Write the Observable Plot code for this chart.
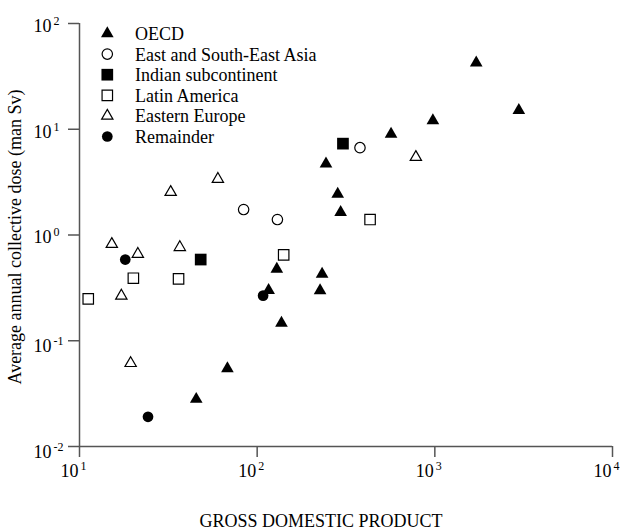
<!DOCTYPE html>
<html>
<head>
<meta charset="utf-8">
<script src="https://cdn.jsdelivr.net/npm/d3@7"></script>
<script src="https://cdn.jsdelivr.net/npm/@observablehq/plot@0.6"></script>
<style>
  html, body { margin: 0; padding: 0; background: #fff; }
  #chart { width: 629px; height: 531px; }
</style>
</head>
<body>
<div id="chart"></div>
<script>
// ---- data ----
const xLabel = "GROSS DOMESTIC PRODUCT";
const yLabel = "Average annual collective dose (man Sv)";
const xTicks = [10, 100, 1000, 10000];
const yTicks = [0.01, 0.1, 1, 10, 100];

const seriesNames = ["OECD", "East and South-East Asia", "Indian subcontinent", "Latin America", "Eastern Europe", "Remainder"];

const oecdGDP  = [1710, 2970, 975, 567, 244, 284, 295, 129, 232, 116, 226, 137, 68, 45.4];
const oecdDose = [42.4, 15.1, 12.1, 9.0, 4.7, 2.44, 1.64, 0.476, 0.427, 0.30, 0.298, 0.147, 0.0546, 0.028];

const asiaGDP  = [379, 83.9, 130];
const asiaDose = [6.7, 1.74, 1.40];

const indiaGDP  = [304, 48.1];
const indiaDose = [7.31, 0.586];

const latinGDP  = [432, 141, 20.1, 36.1, 11.2];
const latinDose = [1.40, 0.649, 0.39, 0.385, 0.249];

const eeGDP  = [782, 60.1, 32.6, 15.2, 36.7, 21.3, 17.2, 19.4];
const eeDose = [5.45, 3.38, 2.54, 0.82, 0.765, 0.66, 0.266, 0.0613];

const remGDP  = [18.1, 108, 24.3];
const remDose = [0.586, 0.267, 0.0191];

// ---- styles per series ----
const styles = [
  {symbol: "triangle", fill: "black", stroke: "none", r: 4.7},
  {symbol: "circle",   fill: "white", stroke: "black", r: 5.2},
  {symbol: "square",   fill: "black", stroke: "none", r: 6.6},
  {symbol: "square",   fill: "white", stroke: "black", r: 5.9},
  {symbol: "triangle", fill: "white", stroke: "black", r: 4.2},
  {symbol: "circle",   fill: "black", stroke: "none", r: 5.35}
];
const seriesData = [
  [oecdGDP, oecdDose], [asiaGDP, asiaDose], [indiaGDP, indiaDose],
  [latinGDP, latinDose], [eeGDP, eeDose], [remGDP, remDose]
].map(([xs, ys]) => xs.map((x, i) => ({gdp: x, dose: ys[i]})));

const drawOrder = [5, 4, 3, 1, 2, 0];

const AXIS = "#555";
const FONT = "'Liberation Serif', 'Times New Roman', serif";
const fmt = d => "10^" + Math.round(Math.log10(d));

const svg = Plot.plot({
  width: 629, height: 531,
  marginTop: 23, marginLeft: 79, marginRight: 17, marginBottom: 85,
  style: {fontFamily: FONT, fontSize: "18px", color: "black", background: "white"},
  x: {type: "log", domain: [10, 10000]},
  y: {type: "log", domain: [0.01, 100]},
  marks: [
    Plot.axisX({ticks: xTicks, tickFormat: fmt, tickSize: 11, tickPadding: 7, label: null, stroke: AXIS, strokeWidth: 1.5}),
    Plot.axisY({ticks: yTicks, tickFormat: fmt, tickSize: 11, tickPadding: 5, label: null, stroke: AXIS, strokeWidth: 1.5}),
    Plot.ruleX([10], {stroke: AXIS, strokeWidth: 1.5}),
    Plot.ruleY([0.01], {stroke: AXIS, strokeWidth: 1.5}),
    ...drawOrder.map(k => Plot.dot(seriesData[k], {
      x: "gdp", y: "dose", symbol: styles[k].symbol, r: styles[k].r,
      fill: styles[k].fill, stroke: styles[k].stroke, strokeWidth: 1.2
    }))
  ]
});

const s = d3.select(svg);
// superscript tick labels
s.selectAll("text").each(function() {
  const t = this.textContent;
  const m = t.match(/^10\^(-?\d+)$/);
  if (!m) return;
  const neg = m[1].startsWith("-");
  const isY = this.closest('g[aria-label="y-axis tick label"]') != null;
  const sel = d3.select(this).text(null).attr("text-anchor", "start");
  sel.append("tspan")
    .attr("dx", isY ? -30 : -19)
    .attr("dy", isY ? (neg ? 5.5 : 2.5) : 0)
    .text("10");
  sel.append("tspan").attr("dx", 2).attr("dy", -7).attr("font-size", 12).text(m[1]);
});

// axis titles
s.append("text")
  .attr("x", 321).attr("y", 527)
  .attr("text-anchor", "middle")
  .attr("font-family", FONT).attr("font-size", 18).attr("fill", "black")
  .text(xLabel);
s.append("text")
  .attr("transform", "translate(21,237) rotate(-90)")
  .attr("text-anchor", "middle")
  .attr("font-family", FONT).attr("font-size", 18).attr("fill", "black")
  .text(yLabel);

// legend
const symMap = {triangle: d3.symbolTriangle, circle: d3.symbolCircle, square: d3.symbolSquare};
const lg = s.append("g").attr("font-family", FONT).attr("font-size", 18).attr("text-anchor", "start");
seriesNames.forEach((name, i) => {
  const st = styles[i];
  const cy = 33.5 + i * 20.6;
  lg.append("path")
    .attr("transform", `translate(107.3,${cy})`)
    .attr("d", d3.symbol(symMap[st.symbol], Math.PI * st.r * st.r)())
    .attr("fill", st.fill).attr("stroke", st.stroke).attr("stroke-width", 1.2);
  lg.append("text").attr("x", 135).attr("y", cy + 6.5).attr("fill", "black").text(name);
});

document.getElementById("chart").appendChild(svg);
</script>
</body>
</html>
